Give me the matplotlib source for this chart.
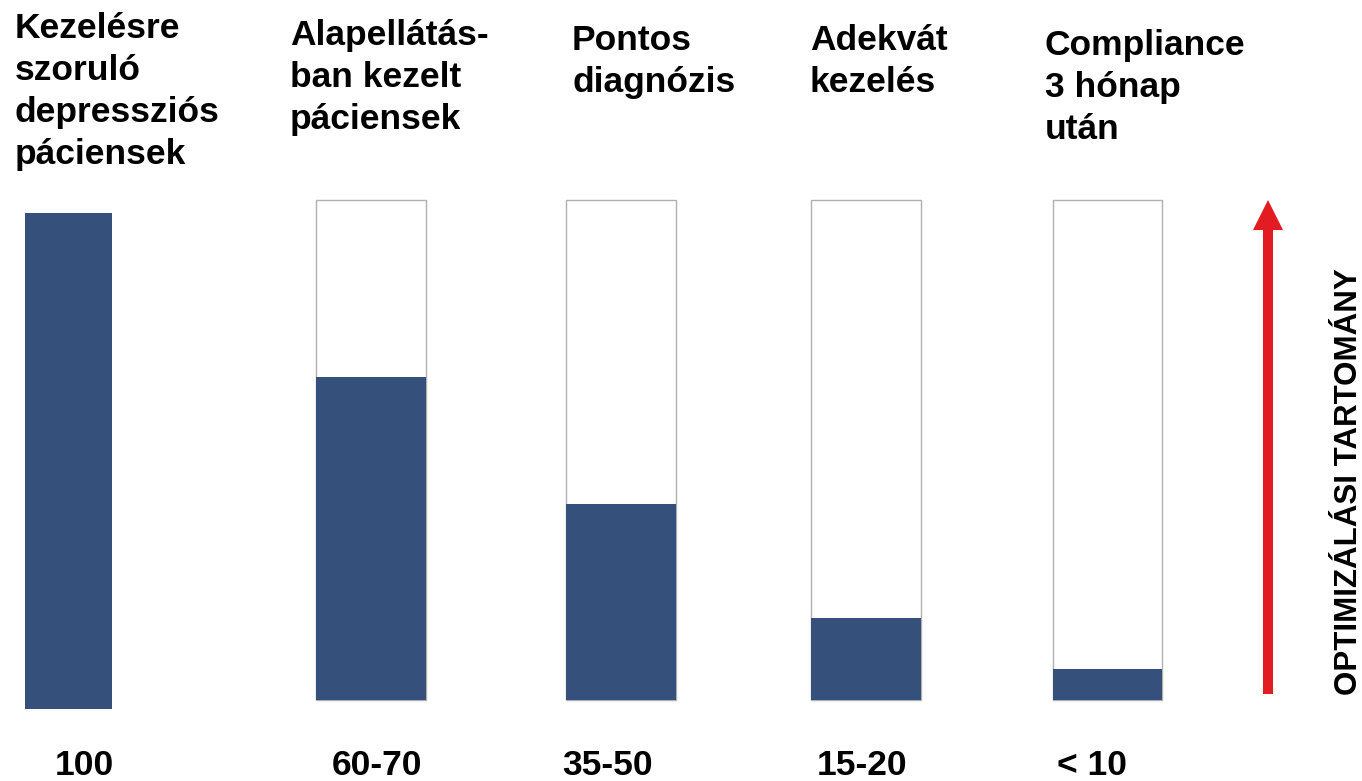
import matplotlib.pyplot as plt
from matplotlib.patches import FancyArrow

# data (share of patients, in %)
titles = [
    ["Kezelésre", "szoruló", "depressziós", "páciensek"],
    ["Alapellátás-", "ban kezelt", "páciensek"],
    ["Pontos", "diagnózis"],
    ["Adekvát", "kezelés"],
    ["Compliance", "3 hónap", "után"],
]
values = [99.2, 64.6, 39.2, 16.4, 6.2]
range_labels = ["100", "60-70", "35-50", "15-20", "< 10"]
arrow_label = "OPTIMIZÁLÁSI TARTOMÁNY"

# layout (pixels of the 1362x781 picture)
W, H = 1362, 781
bar_x = [68.5, 371, 621, 866, 1107.5]
bar_w = [87, 110, 110, 110, 109]
bar_bottom = [-1.8, 0, 0, 0, 0]
title_x = [15, 290, 572, 810, 1045]
title_y = [38, 45, 50, 50, 55]
label_x = [55, 332, 562, 817, 1057]
line_step = 42

navy = '#35517B'
red = '#E31B23'
font = 'Liberation Sans'

plt.rcParams['font.family'] = [font, 'DejaVu Sans']

fig = plt.figure(figsize=(W / 100, H / 100), dpi=100)
fig.patch.set_facecolor('white')

# y 0..100 goes from pixel 700 up to pixel 200
ax = fig.add_axes([0, 81 / H, 1, 500 / H])
ax.set_xlim(0, W)
ax.set_ylim(0, 100)
ax.axis('off')

# empty outline boxes (full 100 %) behind the filled part
ax.bar(bar_x[1:], [100] * 4, width=bar_w[1:], facecolor='white',
       edgecolor='#b0b0b0', linewidth=1.0, zorder=1, clip_on=False)
ax.bar(bar_x, values, width=bar_w, bottom=bar_bottom, color=navy,
       linewidth=0, zorder=2, clip_on=False)

# red arrow
arr = FancyArrow(1268, 1.2, 0, 98.8, width=10, head_width=30,
                 head_length=6, length_includes_head=True,
                 color=red, linewidth=0, zorder=3, clip_on=False)
ax.add_patch(arr)

for i, lines in enumerate(titles):
    for j, line in enumerate(lines):
        fig.text(title_x[i] / W, 1 - (title_y[i] + j * line_step) / H, line,
                 ha='left', va='baseline', fontsize=25.5,
                 fontweight='bold', color='black')

for i, lab in enumerate(range_labels):
    fig.text(label_x[i] / W, 1 - 775 / H, lab, ha='left', va='baseline',
             fontsize=25.5, fontweight='bold', color='black')

fig.text(1349 / W, 1 - 695 / H, arrow_label, rotation=90, ha='center',
         va='bottom', fontsize=22.5, fontweight='bold', color='black')

fig.savefig('out.png', dpi=100, facecolor='white')
